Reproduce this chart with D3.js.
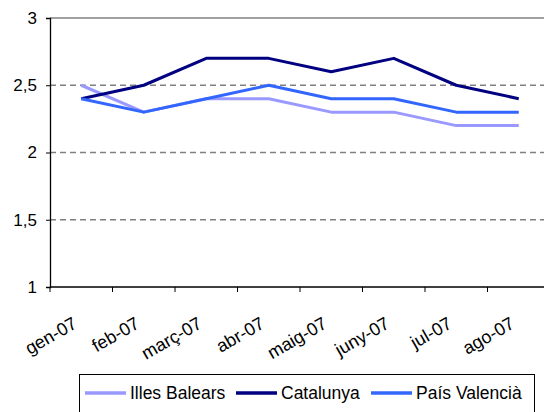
<!DOCTYPE html>
<html>
<head>
<meta charset="utf-8">
<script src="https://cdn.jsdelivr.net/npm/d3@7"></script>
<style>
  body { margin: 0; background: #fff; }
  svg { display: block; font-family: Arial, "Liberation Sans", sans-serif; }
</style>
</head>
<body>
<svg id="chart" width="544" height="412"></svg>
<script>
const months = ["gen-07", "feb-07", "març-07", "abr-07", "maig-07", "juny-07", "jul-07", "ago-07"];
const illesBalears = [2.5, 2.3, 2.4, 2.4, 2.3, 2.3, 2.2, 2.2];
const catalunya = [2.4, 2.5, 2.7, 2.7, 2.6, 2.7, 2.5, 2.4];
const paisValencia = [2.4, 2.3, 2.4, 2.5, 2.4, 2.4, 2.3, 2.3];
const yTicks = [1, 1.5, 2, 2.5, 3];

const series = [
  {name: "Illes Balears", values: illesBalears, color: "#9999ff"},
  {name: "Catalunya", values: catalunya, color: "#000080"},
  {name: "País Valencià", values: paisValencia, color: "#3366ff"}
];

const svg = d3.select("#chart");
const plot = {left: 50, top: 18, bottom: 287, right: 550};

const x = d3.scaleBand()
  .domain(months)
  .range([plot.left, plot.right]);

const y = d3.scaleLinear()
  .domain([1, 3])
  .range([plot.bottom, plot.top]);

// gridlines
svg.append("g")
  .selectAll("line")
  .data(yTicks.filter(d => d > 1))
  .enter()
  .append("line")
  .attr("x1", plot.left)
  .attr("x2", plot.right)
  .attr("y1", d => y(d))
  .attr("y2", d => y(d))
  .attr("stroke", "#808080")
  .attr("stroke-width", 1.3)
  .attr("stroke-dasharray", d => d === 3 ? null : "6,4");

// y axis
const yAxis = svg.append("g")
  .attr("transform", `translate(${plot.left},0)`)
  .call(d3.axisLeft(y).tickValues(yTicks).tickSize(4).tickPadding(9)
    .tickFormat(d => String(d).replace(".", ",")));
yAxis.select(".domain").attr("stroke", "#000").attr("stroke-width", 1.3);
yAxis.selectAll(".tick line").attr("stroke", "#000");
yAxis.selectAll("text").style("font-size", "17px").attr("fill", "#000");

// x axis
const xAxis = svg.append("g")
  .attr("transform", `translate(0,${plot.bottom})`);
xAxis.append("line")
  .attr("x1", plot.left).attr("x2", plot.right)
  .attr("y1", 0).attr("y2", 0)
  .attr("stroke", "#000")
  .attr("stroke-width", 1.3);
xAxis.selectAll(".tk")
  .data(months)
  .enter()
  .append("line")
  .attr("class", "tk")
  .attr("x1", d => x(d)).attr("x2", d => x(d))
  .attr("y1", 0).attr("y2", 5)
  .attr("stroke", "#000");
xAxis.selectAll("text")
  .data(months)
  .enter()
  .append("text")
  .attr("transform", d => `translate(${x(d) + x.bandwidth() / 2 - 3},${40}) rotate(-30)`)
  .attr("text-anchor", "end")
  .style("font-size", "18px")
  .text(d => d);

// lines
const line = d3.line()
  .x((v, i) => x(months[i]) + x.bandwidth() / 2)
  .y(v => y(v));

svg.append("g")
  .selectAll("path")
  .data(series)
  .enter()
  .append("path")
  .attr("d", d => line(d.values))
  .attr("fill", "none")
  .attr("stroke", d => d.color)
  .attr("stroke-width", 3)
  .attr("stroke-linejoin", "round");

// legend
const legend = svg.append("g");
legend.append("rect")
  .attr("x", 79.5).attr("y", 374.5)
  .attr("width", 455).attr("height", 44)
  .attr("fill", "#fff")
  .attr("stroke", "#000");

const legendX = [85, 236, 371];
const item = legend.selectAll(".item")
  .data(series)
  .enter()
  .append("g")
  .attr("transform", (d, i) => `translate(${legendX[i]},393)`);
item.append("line")
  .attr("x1", 0).attr("x2", 41)
  .attr("stroke", d => d.color)
  .attr("stroke-width", 3.5);
item.append("text")
  .attr("x", 45)
  .attr("dy", "0.35em")
  .style("font-size", "17.5px")
  .text(d => d.name);
</script>
</body>
</html>
